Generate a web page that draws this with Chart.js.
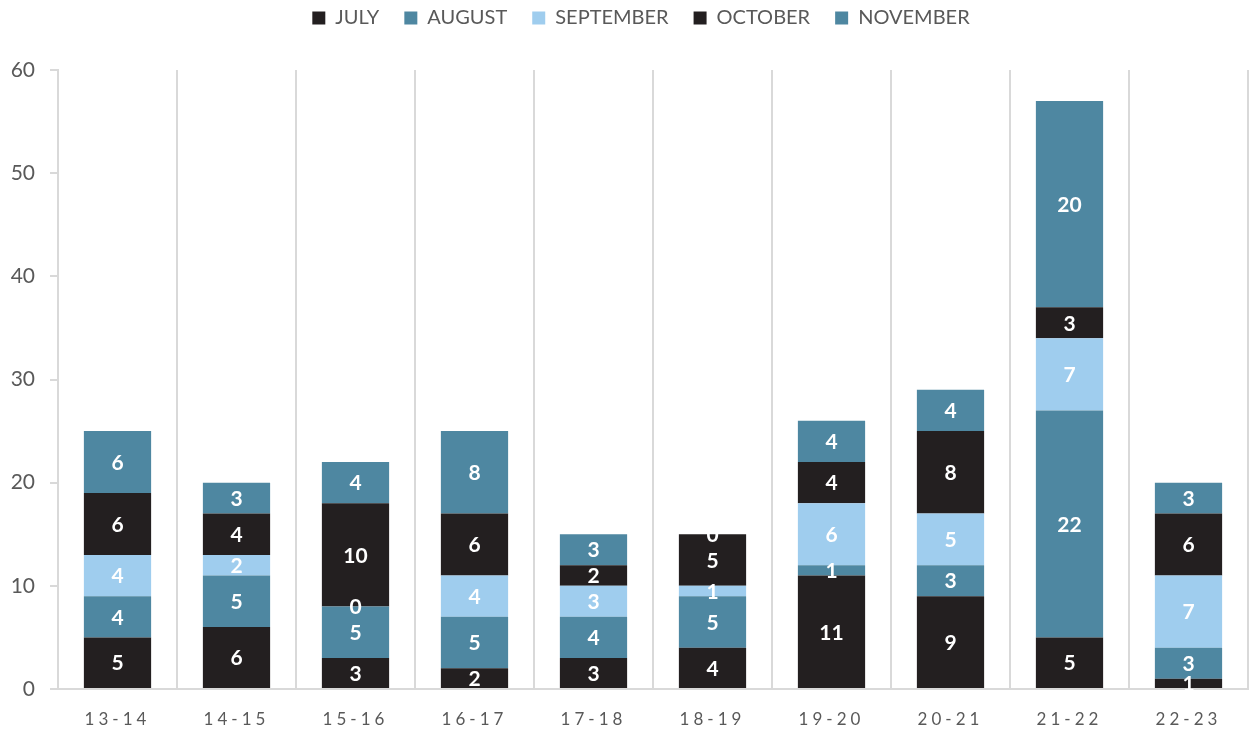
<!DOCTYPE html>
<html>
<head>
<meta charset="utf-8">
<script src="https://cdn.jsdelivr.net/npm/chart.js@4.4.1/dist/chart.umd.min.js"></script>
<style>
  html, body { margin: 0; padding: 0; background: #ffffff; }
  #wrap { width: 1253px; height: 732px; position: relative; }
</style>
</head>
<body>
<div id="wrap"><canvas id="seasonChart"></canvas></div>
<script>
// 資料
const categories = ['13-14', '14-15', '15-16', '16-17', '17-18', '18-19', '19-20', '20-21', '21-22', '22-23'];
const july      = [5, 6, 3, 2, 3, 4, 11, 9, 5, 1];
const august    = [4, 5, 5, 5, 4, 5, 1, 3, 22, 3];
const september = [4, 2, 0, 4, 3, 1, 6, 5, 7, 7];
const october   = [6, 4, 10, 6, 2, 5, 4, 8, 3, 6];
const november  = [6, 3, 4, 8, 3, 0, 4, 4, 20, 3];
const seriesNames = ['JULY', 'AUGUST', 'SEPTEMBER', 'OCTOBER', 'NOVEMBER'];
const yTicks = [0, 10, 20, 30, 40, 50, 60];

const DARK = '#231f20';
const TEAL = '#4e87a1';
const LIGHT = '#9fcdee';
const GRID = '#d9d9d9';
const TEXT = '#595959';
const FONT = 'Lato, "Open Sans", sans-serif';
const TOP_SHIFT = -17;

// 在每一段中央寫上數值（含 0）
const segmentLabels = {
    id: 'segmentLabels',
    beforeInit(chart) {
        const legend = chart.legend;
        if (!legend) return;
        // 圖例高度固定，讓繪圖區從 y=70 開始
        const fit = legend.fit;
        legend.fit = function () {
            fit.call(this);
            this.height = 70 - TOP_SHIFT;
        };
        // 原圖的圖例略為偏右
        const draw = legend.draw;
        legend.draw = function () {
            const c = this.ctx;
            c.save();
            c.translate(15, 0);
            draw.apply(this, arguments);
            c.restore();
        };
    },
    afterDatasetsDraw(chart) {
        const ctx = chart.ctx;
        ctx.save();
        ctx.font = 'bold 21px ' + FONT;
        ctx.fillStyle = '#ffffff';
        ctx.textAlign = 'center';
        ctx.textBaseline = 'middle';
        chart.data.datasets.forEach((ds, i) => {
            const meta = chart.getDatasetMeta(i);
            meta.data.forEach((bar, j) => {
                const mid = (bar.y + bar.base) / 2;
                ctx.fillText(String(ds.data[j]), bar.x, mid + 1);
            });
        });
        ctx.restore();
        // x 軸標籤字距較寬
        ctx.letterSpacing = '4px';
    },
    afterDraw(chart) {
        chart.ctx.letterSpacing = '0px';
    }
};

function initSeasonChart() {
    const ctx = document.getElementById('seasonChart');
    if (!ctx) return;

    const seriesData = [july, august, september, october, november];
    const seriesColors = [DARK, TEAL, LIGHT, DARK, TEAL];

    new Chart(ctx, {
        type: 'bar',
        data: {
            labels: categories,
            datasets: seriesNames.map((name, i) => ({
                label: name,
                data: seriesData[i],
                backgroundColor: seriesColors[i],
                borderWidth: 0,
                categoryPercentage: 1,
                barPercentage: 0.565
            }))
        },
        options: {
            responsive: true,
            maintainAspectRatio: false,
            animation: false,
            layout: { padding: { top: TOP_SHIFT, right: 5, left: 4, bottom: 2 } },
            plugins: {
                legend: {
                    position: 'top',
                    labels: {
                        boxWidth: 13,
                        boxHeight: 13,
                        padding: 25,
                        color: TEXT,
                        font: { family: FONT, size: 20 }
                    }
                },
                tooltip: { enabled: false }
            },
            scales: {
                x: {
                    stacked: true,
                    afterFit(scale) { scale.height = 41; },
                    grid: { offset: true, color: GRID, lineWidth: 2, drawTicks: false },
                    border: { color: GRID, width: 2 },
                    ticks: {
                        z: 1,
                        padding: 20,
                        color: TEXT,
                        font: { family: FONT, size: 17 }
                    }
                },
                y: {
                    stacked: true,
                    min: 0,
                    max: 60,
                    afterFit(scale) { scale.width = 54; },
                    afterBuildTicks(scale) {
                        scale.ticks = yTicks.map(v => ({ value: v }));
                    },
                    grid: { drawOnChartArea: false, drawTicks: true, tickLength: 8, color: GRID, lineWidth: 2 },
                    border: { color: GRID, width: 2 },
                    ticks: {
                        padding: 15,
                        color: TEXT,
                        font: { family: FONT, size: 21 }
                    }
                }
            }
        },
        plugins: [segmentLabels]
    });
}

initSeasonChart();
</script>
</body>
</html>
